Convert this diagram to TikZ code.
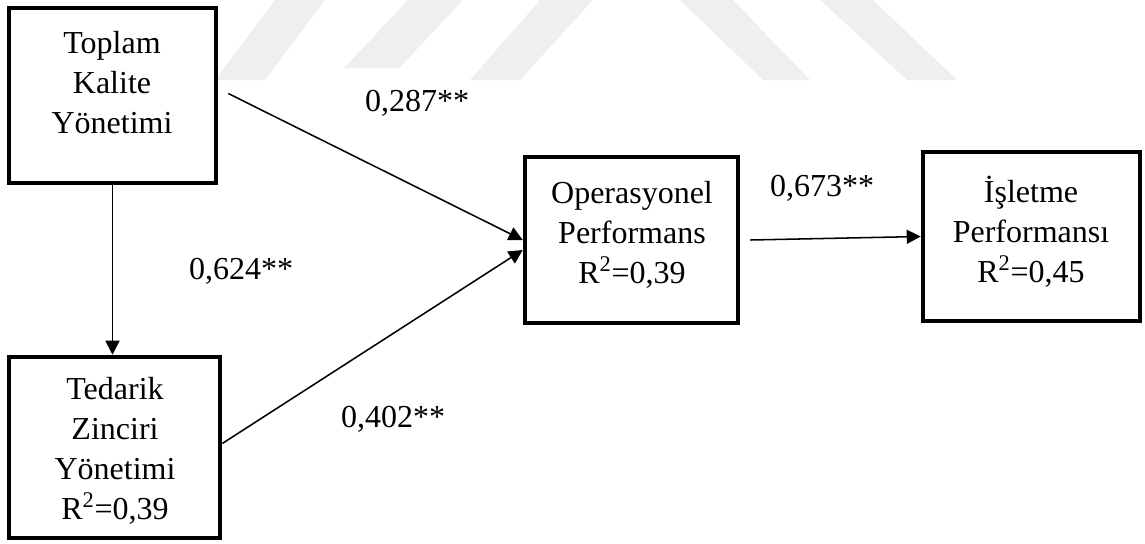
\documentclass[tikz,border=0pt]{standalone}
\usepackage{fontspec}
\setmainfont{Liberation Serif}
\usetikzlibrary{arrows.meta,calc}
\definecolor{wmgray}{RGB}{239,239,239}
\begin{document}
\begin{tikzpicture}[x=0.75pt,y=-0.75pt,
  box/.style 2 args={draw, line width=3.4pt, inner sep=0pt,
    minimum width=#1, minimum height=#2},
  txt/.style={align=center, inner sep=0pt, font=\fontsize{24}{30}\selectfont},
  lbl/.style={inner sep=0pt, font=\fontsize{24}{28}\selectfont},
  arr/.style={line width=1.15pt, -{Triangle[length=10.5pt,width=10.5pt]}}]
\useasboundingbox (0,0) rectangle (1145,543);

% faint background stripes
\fill[wmgray] (215,80) -- (265,80) -- (325,0) -- (275,0) -- cycle;
\fill[wmgray] (333,80) -- (388,80) -- (463,0) -- (408,0) -- cycle;
\fill[wmgray] (470,80) -- (520,80) -- (593,0) -- (540,0) -- cycle;
\fill[wmgray] (680,0) -- (733,0) -- (810,80) -- (763,80) -- cycle;
\fill[wmgray] (820,0) -- (873,0) -- (957,80) -- (907,80) -- cycle;
\fill[white, rounded corners=1pt] (332,68) rectangle (449,112);

% boxes
\node[box={155.25pt}{131.25pt}] (tky) at (112.5,95.5) {};
\node[box={158.25pt}{135.75pt}] (tzy) at (114.5,447.5) {};
\node[box={159.75pt}{124.5pt}] (op) at (631.5,240) {};
\node[box={162.75pt}{126.75pt}] (ip) at (1031.5,236.5) {};

\node[txt] (tkyt) at (112,83) {Toplam\\Kalite\\Yönetimi};
\node[txt] (tzyt) at (115,451) {Tedarik\\Zinciri\\Yönetimi\\R\textsuperscript{2}=0,39};
\node[txt] (opt) at (632,235) {Operasyonel\\Performans\\R\textsuperscript{2}=0,39};
\node[txt] (ipt) at (1031,232) {İşletme\\Performansı\\R\textsuperscript{2}=0,45};

% paths
\draw[arr] ($(tky.east)+(10,-2)$) -- (op.west);
\draw[arr] ($(tzy.east)+(0,-4)$) -- ($(op.west)+(0,10)$);
\draw[arr] (tky.south) -- (tky.south |- tzy.north);
\draw[arr] ($(op.east)+(10,0)$) -- (ip.west);

% coefficients
\node[lbl] (c1) at (417,103) {0,287**};
\node[lbl] (c2) at (241,271) {0,624**};
\node[lbl] (c3) at (393,419) {0,402**};
\node[lbl] (c4) at (822,188) {0,673**};
\end{tikzpicture}
\end{document}
